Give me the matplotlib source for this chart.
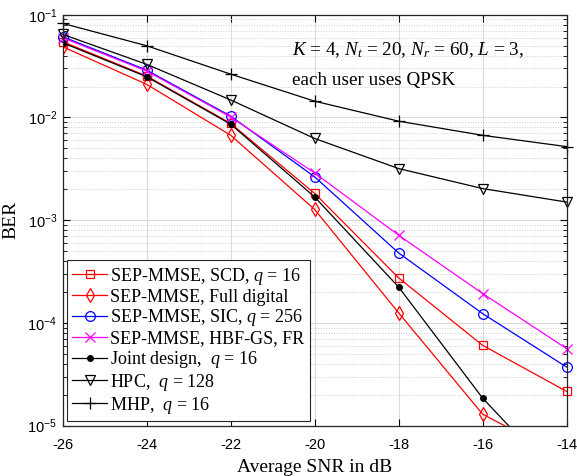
import matplotlib
matplotlib.use("Agg")
import matplotlib.pyplot as plt
from matplotlib.ticker import LogLocator, NullFormatter

plt.rcParams['font.family'] = 'Liberation Serif'
plt.rcParams['mathtext.fontset'] = 'custom'
plt.rcParams['mathtext.rm'] = 'Liberation Serif'
plt.rcParams['mathtext.it'] = 'Liberation Serif:italic'
plt.rcParams['axes.unicode_minus'] = False

# SNR points (dB)
snr = [-26, -24, -22, -20, -18, -16, -14]

# BER curves
ber_scd = [0.0546, 0.0253, 0.00875, 0.00182, 2.74e-4, 6.04e-5, 2.15e-5]
ber_full = [0.0488, 0.0210, 0.00671, 0.00127, 1.25e-4, 1.29e-5, 4.8e-6]
ber_sic = [0.0611, 0.0289, 0.0103, 0.00264, 4.79e-4, 1.23e-4, 3.71e-5]
ber_hbf = [0.0597, 0.0283, 0.0101, 0.00288, 7.13e-4, 1.93e-4, 5.61e-5]
ber_joint = [0.0533, 0.0249, 0.0086, 0.00168, 2.23e-4, 1.85e-5, 2.5e-6]
ber_hpc = [0.0644, 0.0329, 0.0148, 0.00624, 0.00318, 0.00203, 0.00150]
ber_mhp = [0.0824, 0.0499, 0.0264, 0.0144, 0.0092, 0.0067, 0.0052]

fig = plt.figure(figsize=(5.77, 4.76), dpi=100)
ax = fig.add_axes([0.1087, 0.106, 0.8733, 0.863])

lw = 0.9
ax.semilogy(snr, ber_scd, '-s', color='red', lw=lw, ms=6, mfc='none', mew=0.9,
            label=r'SEP-MMSE, SCD, $q$ = 16', clip_on=False)
ax.semilogy(snr, ber_full, '-d', color='red', lw=lw, ms=7, mfc='none', mew=0.9,
            label='SEP-MMSE, Full digital')
ax.semilogy(snr, ber_sic, '-o', color='blue', lw=lw, ms=7, mfc='none', mew=0.9,
            label=r'SEP-MMSE, SIC, $q$ = 256', clip_on=False)
ax.semilogy(snr, ber_hbf, '-x', color='magenta', lw=lw, ms=7, mew=0.9,
            label='SEP-MMSE, HBF-GS, FR', clip_on=False)
ax.semilogy(snr, ber_joint, '-o', color='black', lw=lw, ms=4,
            label=r'Joint design,  $q$ = 16')
ax.semilogy(snr, ber_hpc, '-v', color='black', lw=lw, ms=7, mfc='none', mew=0.9,
            label=r'HPC,  $q$ = 128', clip_on=False)
ax.semilogy(snr, ber_mhp, '-+', color='black', lw=lw, ms=9, mew=0.9,
            label=r'MHP,  $q$ = 16', clip_on=False)

ax.set_xlim(-26, -14)
ax.set_ylim(1e-5, 1e-1)
ax.set_xticks([-26, -24, -22, -20, -18, -16, -14])
ax.yaxis.set_minor_locator(LogLocator(base=10, subs=range(2, 10)))
ax.yaxis.set_minor_formatter(NullFormatter())

ax.grid(True, which='major', color='#dcdcdc', lw=0.8, ls='-')
ax.grid(True, which='minor', axis='y', color='#cfcfcf', lw=0.7, ls=':')
ax.set_axisbelow(True)

ax.tick_params(which='both', direction='in', top=True, right=True,
               labelsize=10.5)
ax.tick_params(axis='x', pad=9)
ax.tick_params(axis='y', pad=4)
ax.tick_params(which='major', length=5, width=0.8)
ax.tick_params(which='minor', length=3, width=0.6)
for lab in ax.get_xticklabels() + ax.get_yticklabels():
    lab.set_fontfamily('Liberation Sans')
for s in ax.spines.values():
    s.set_linewidth(0.9)
    s.set_color('#262626')

ax.set_xlabel('Average SNR in dB', fontsize=14, labelpad=5)
ax.set_ylabel('BER', fontsize=14, labelpad=6)

ax.text(0.455, 0.914, r'$K$ = 4, $N_t$ = 20, $N_r$ = 60, $L$ = 3,',
        transform=ax.transAxes, fontsize=13.8, va='center', ha='left')
ax.text(0.455, 0.841, 'each user uses QPSK',
        transform=ax.transAxes, fontsize=13.8, va='center', ha='left')

leg = ax.legend(loc='lower left', bbox_to_anchor=(0.0085, 0.011), borderaxespad=0,
                fontsize=13, handlelength=1.9, handletextpad=0.2, labelspacing=0.1,
                borderpad=0.3, fancybox=False, edgecolor='#262626', framealpha=1)
leg.get_frame().set_linewidth(0.8)

fig.savefig('out.png', dpi=100)
